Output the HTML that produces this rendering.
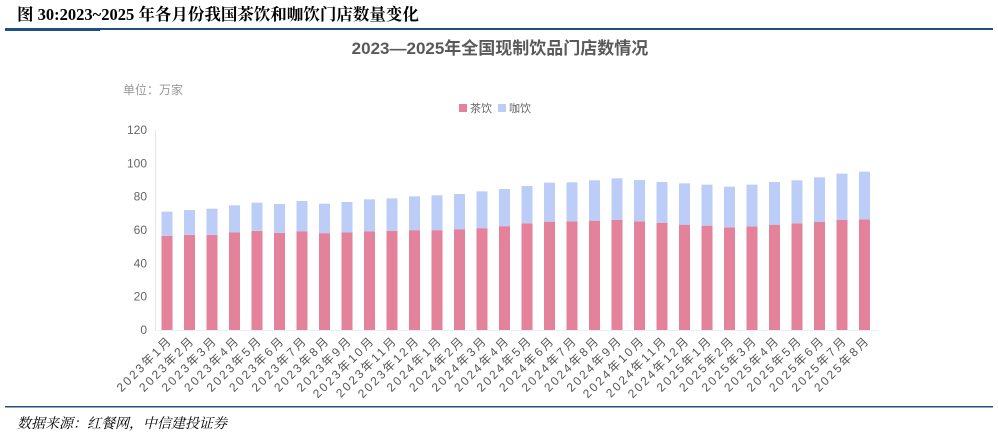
<!DOCTYPE html>
<html><head><meta charset="utf-8">
<style>
body{margin:0;background:#fff;width:998px;height:437px;overflow:hidden;font-family:"Liberation Sans","Noto Sans CJK SC",sans-serif;}
svg{display:block}
</style></head>
<body>
<svg id="c" width="998" height="437" xmlns="http://www.w3.org/2000/svg">
<text x="17" y="20" font-family="'Liberation Serif','Noto Serif CJK SC',serif" font-weight="bold" font-size="16.5" fill="#000">图 30:2023~2025 年各月份我国茶饮和咖饮门店数量变化</text>
<rect x="5" y="28" width="988" height="2" fill="#1f5080"/>
<rect x="5" y="28" width="95" height="3" fill="#1f5080"/>
<text x="500" y="54" text-anchor="middle" font-size="17" font-weight="bold" fill="#595959">2023—2025年全国现制饮品门店数情况</text>
<text x="123" y="94" font-size="12" fill="#999">单位：万家</text>
<g>
<rect x="459" y="104" width="8" height="8" fill="#e3829a"/>
<text x="470" y="112" font-size="11" fill="#666">茶饮</text>
<rect x="498" y="104" width="8" height="8" fill="#bccdf7"/>
<text x="509" y="112" font-size="11" fill="#666">咖饮</text>
</g>
<line x1="155.5" y1="130" x2="155.5" y2="330" stroke="#e6e6e6"/>
<line x1="155" y1="330.5" x2="878" y2="330.5" stroke="#eee"/>
<g id="bars"></g><g id="yt"></g><g id="xt"></g>
<rect x="5" y="406" width="988" height="1.5" fill="#1f5080"/>
<text x="17" y="428" font-family="'Liberation Serif','Noto Serif CJK SC',serif" font-style="italic" font-size="14" fill="#000">数据来源：红餐网，中信建投证券</text>
</svg>
<script>
const months=["2023年1月","2023年2月","2023年3月","2023年4月","2023年5月","2023年6月","2023年7月","2023年8月","2023年9月","2023年10月","2023年11月","2023年12月","2024年1月","2024年2月","2024年3月","2024年4月","2024年5月","2024年6月","2024年7月","2024年8月","2024年9月","2024年10月","2024年11月","2024年12月","2025年1月","2025年2月","2025年3月","2025年4月","2025年5月","2025年6月","2025年7月","2025年8月"];
const tea=[56.5,57.1,57.1,58.5,59.5,58.3,59.1,58.1,58.5,59.1,59.5,59.9,59.9,60.3,61.1,62.3,64.0,65.0,65.2,65.6,66.0,65.2,64.2,63.2,62.6,61.6,62.2,63.2,64.0,64.8,66.0,66.4];
const coffee=[14.5,14.9,15.7,16.3,16.9,17.3,18.3,17.7,18.3,19.3,19.5,20.3,20.9,21.3,22.1,22.3,22.4,23.4,23.4,24.2,25.0,24.8,24.6,24.8,24.6,24.4,25.0,25.6,25.8,26.8,27.8,28.6];
const yTicks=[0,20,40,60,80,100,120];
const NS="http://www.w3.org/2000/svg";
const y0=330,pxPer=200/120;
const yS=v=>y0-v*pxPer;
const xS=i=>167+i*22.5;
const bw=11;
const bars=document.getElementById('bars'),yt=document.getElementById('yt'),xt=document.getElementById('xt');
function mk(tag,at,p){const e=document.createElementNS(NS,tag);for(const k in at)e.setAttribute(k,at[k]);p.appendChild(e);return e;}
yTicks.forEach(v=>{const t=mk('text',{x:147,y:yS(v)+4,'text-anchor':'end','font-size':12,fill:'#666'},yt);


t.textContent=v;});
months.forEach((m,i)=>{
const cx=xS(i);
const r1=mk('rect',{x:cx-bw/2,y:yS(tea[i]),width:bw,height:tea[i]*pxPer,fill:'#e3829a'},bars);


const r2=mk('rect',{x:cx-bw/2,y:yS(tea[i]+coffee[i]),width:bw,height:coffee[i]*pxPer,fill:'#bccdf7'},bars);


const t=mk('text',{x:cx+6,y:341,'text-anchor':'end','font-size':12,fill:'#555','letter-spacing':'2.2',transform:`rotate(-45 ${cx+6} 341)`},xt);


t.textContent=m;
});
</script>
</body></html>
